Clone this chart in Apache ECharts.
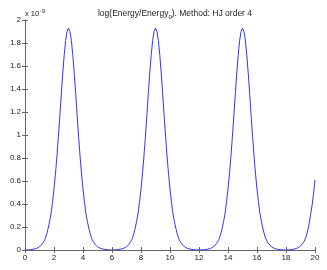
<!DOCTYPE html>
<html><head><meta charset="utf-8">
<script src="https://cdn.jsdelivr.net/npm/echarts@6/dist/echarts.min.js"></script>
<style>html,body{margin:0;padding:0;background:#fff}#c{width:327px;height:270px}</style>
</head><body><div id="c"></div>
<script>
// time samples 0..20 step 0.1
const tStep = 0.1;
// log(Energy/Energy_0) in units of 1e-9
const energy = [
 0,0.0005,0.001,0.002,0.003,0.005,0.007,0.010,0.014,0.020,
 0.028,0.039,0.054,0.075,0.10,0.14,0.19,0.25,0.32,0.42,
 0.53,0.66,0.81,0.98,1.16,1.35,1.53,1.69,1.82,1.90,
 1.93,1.90,1.82,1.69,1.53,1.35,1.16,0.98,0.81,0.66,
 0.53,0.42,0.32,0.25,0.19,0.14,0.10,0.075,0.054,0.039,
 0.028,0.020,0.014,0.010,0.007,0.005,0.003,0.002,0.001,0.0005,
 0,0.0005,0.001,0.002,0.003,0.005,0.007,0.010,0.014,0.020,
 0.028,0.039,0.054,0.075,0.10,0.14,0.19,0.25,0.32,0.42,
 0.53,0.66,0.81,0.98,1.16,1.35,1.53,1.69,1.82,1.90,
 1.93,1.90,1.82,1.69,1.53,1.35,1.16,0.98,0.81,0.66,
 0.53,0.42,0.32,0.25,0.19,0.14,0.10,0.075,0.054,0.039,
 0.028,0.020,0.014,0.010,0.007,0.005,0.003,0.002,0.001,0.0005,
 0,0.0005,0.001,0.002,0.003,0.005,0.007,0.010,0.014,0.020,
 0.028,0.039,0.054,0.075,0.10,0.14,0.19,0.25,0.32,0.42,
 0.53,0.66,0.81,0.98,1.16,1.35,1.53,1.69,1.82,1.90,
 1.93,1.90,1.82,1.69,1.53,1.35,1.16,0.98,0.81,0.66,
 0.53,0.42,0.32,0.25,0.19,0.14,0.10,0.075,0.054,0.039,
 0.028,0.020,0.014,0.010,0.007,0.005,0.003,0.002,0.001,0.0005,
 0,0.0005,0.001,0.002,0.004,0.006,0.009,0.013,0.018,0.025,
 0.034,0.047,0.064,0.088,0.12,0.17,0.23,0.31,0.39,0.49,
 0.61
];
const xTicks = [0,2,4,6,8,10,12,14,16,18,20];
const yTicks = [0,0.2,0.4,0.6,0.8,1,1.2,1.4,1.6,1.8,2];

const pts = energy.map((v,i)=>[+(i*tStep).toFixed(1), v]);
const chart = echarts.init(document.getElementById('c'));
const font = 'Liberation Sans, Arial, sans-serif';
const axisCommon = {
  axisLine:{show:true,lineStyle:{color:'#666',width:1}},
  axisTick:{show:true,inside:true,length:3,lineStyle:{color:'#666'}},
  splitLine:{show:false}
};
chart.setOption({
  animation:false,
  title:{
    text:'{a|log(Energy/Energy}{s|0}{a|). Method: HJ order 4}',
    left:170, top:3, textAlign:'center',
    textStyle:{fontWeight:'normal',rich:{
      a:{fontSize:8.5,fontFamily:font,color:'#222',fontWeight:'normal'},
      s:{fontSize:6,fontFamily:font,color:'#222',fontWeight:'normal',verticalAlign:'bottom',padding:[6,0,0,0]}
    }}
  },
  graphic:[{type:'text',left:25,top:8,style:{
    text:'{a|x 10}{s|-9}',
    rich:{a:{fontSize:7.5,fontFamily:font,fill:'#222'},s:{fontSize:5.5,fontFamily:font,fill:'#222',verticalAlign:'top',padding:[0,0,5,1]}}
  }}],
  grid:{left:25,right:12,top:20,bottom:20},
  xAxis:[
    Object.assign({type:'value',min:0,max:20,interval:2,position:'bottom',
      axisLabel:{fontSize:8,fontFamily:font,color:'#222',margin:4}},axisCommon),
    Object.assign({type:'value',min:0,max:20,interval:2,position:'top',
      axisLabel:{show:false}},axisCommon)
  ],
  yAxis:[
    Object.assign({type:'value',min:0,max:2,interval:0.2,position:'left',
      axisLabel:{fontSize:8,fontFamily:font,color:'#222',margin:4,
        formatter:v=>String(+v.toFixed(1))}},axisCommon),
    Object.assign({type:'value',min:0,max:2,interval:0.2,position:'right',
      axisLabel:{show:false}},axisCommon)
  ],
  series:[{type:'line',data:pts,showSymbol:false,smooth:false,
    lineStyle:{color:'#3333ff',width:1}}]
});
</script></body></html>
